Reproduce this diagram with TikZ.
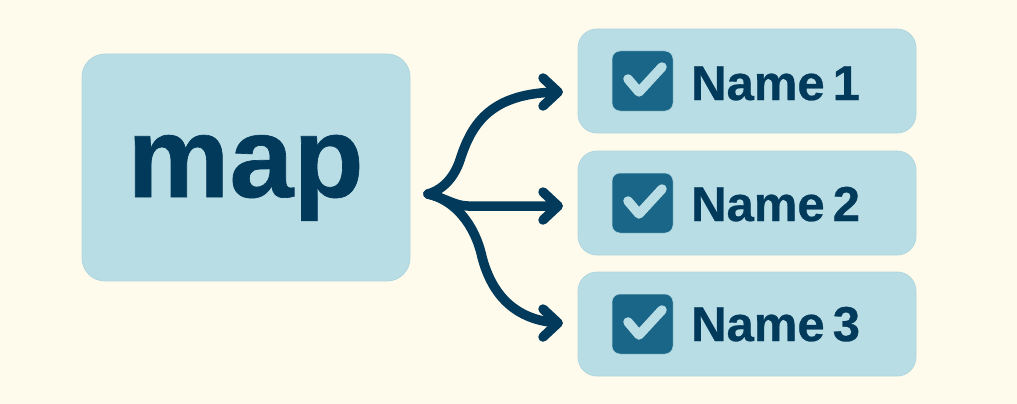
\documentclass[tikz,border=0pt]{standalone}
\usepackage{fontspec}
\setmainfont[WordSpace=0.6,BoldFont={Liberation Sans Bold},BoldFeatures={FakeBold=0.6}]{Liberation Sans}
\definecolor{bgc}{HTML}{FFFBEC}
\definecolor{boxc}{HTML}{B9DDE5}
\definecolor{edgec}{HTML}{AED6DF}
\definecolor{darkc}{HTML}{023A5C}
\definecolor{chkc}{HTML}{1A6688}
\tikzset{
  x=1pt,y=-1pt,
  panel/.style={fill=boxc,draw=edgec,line width=0.8pt,rounded corners=19pt,minimum width=338pt,minimum height=104pt,inner sep=0pt,anchor=center},
  mainbox/.style={fill=boxc,draw=edgec,line width=0.8pt,rounded corners=23pt,minimum width=328pt,minimum height=227pt,inner sep=0pt},
  chkbox/.style={fill=chkc,draw=edgec,line width=0.5pt,rounded corners=8pt,minimum width=61pt,minimum height=60pt,inner sep=0pt},
  tick/.style={draw=boxc,line width=9.5pt,line cap=round,line join=round},
  label/.style={font=\bfseries\fontsize{49}{49}\selectfont,text=darkc,anchor=base west,inner sep=0pt},
  flow/.style={draw=darkc,line width=9.5pt,line cap=round,line join=round},
}
\begin{document}
\begin{tikzpicture}
\useasboundingbox[fill=bgc] (0,0) rectangle (1017,404);
\node[mainbox] (main) at (246,167.5) {};
\node[font=\bfseries\fontsize{115}{115}\selectfont,text=darkc,anchor=base,inner sep=0pt] (maptext) at (245.5,197) {map};
\foreach \n/\y/\b in {1/81/100,2/203/221,3/324/341}{
  \node[panel] (p\n) at (747,\y) {};
  \node[chkbox] (c\n) at (642.5,\y) {};
  \draw[tick] ([shift={(-14.5,-2)}]c\n.center) -- ([shift={(-3.5,11)}]c\n.center) -- ([shift={(19.5,-14)}]c\n.center);
  \node[label] (t\n) at (691,\b) {Name \n};
}
\coordinate (src) at (428,194);
\coordinate (e1) at (558,92);
\coordinate (e2) at (558,206);
\coordinate (e3) at (558,323);
\draw[flow] (src) .. controls (445,189) and (455,175) .. (460,160)
  .. controls (472,122) and (492,93) .. (e1);
\draw[flow] (src) .. controls (445,198) and (455,206) .. (468,206) -- (e2);
\draw[flow] (src) .. controls (455,200) and (475,225) .. (482,257)
  .. controls (492,295) and (515,320) .. (e3);
\foreach \e in {1,2,3}{
  \draw[flow] ([shift={(-15,-14)}]e\e) -- (e\e) -- ([shift={(-15,14)}]e\e);
}
\end{tikzpicture}
\end{document}
